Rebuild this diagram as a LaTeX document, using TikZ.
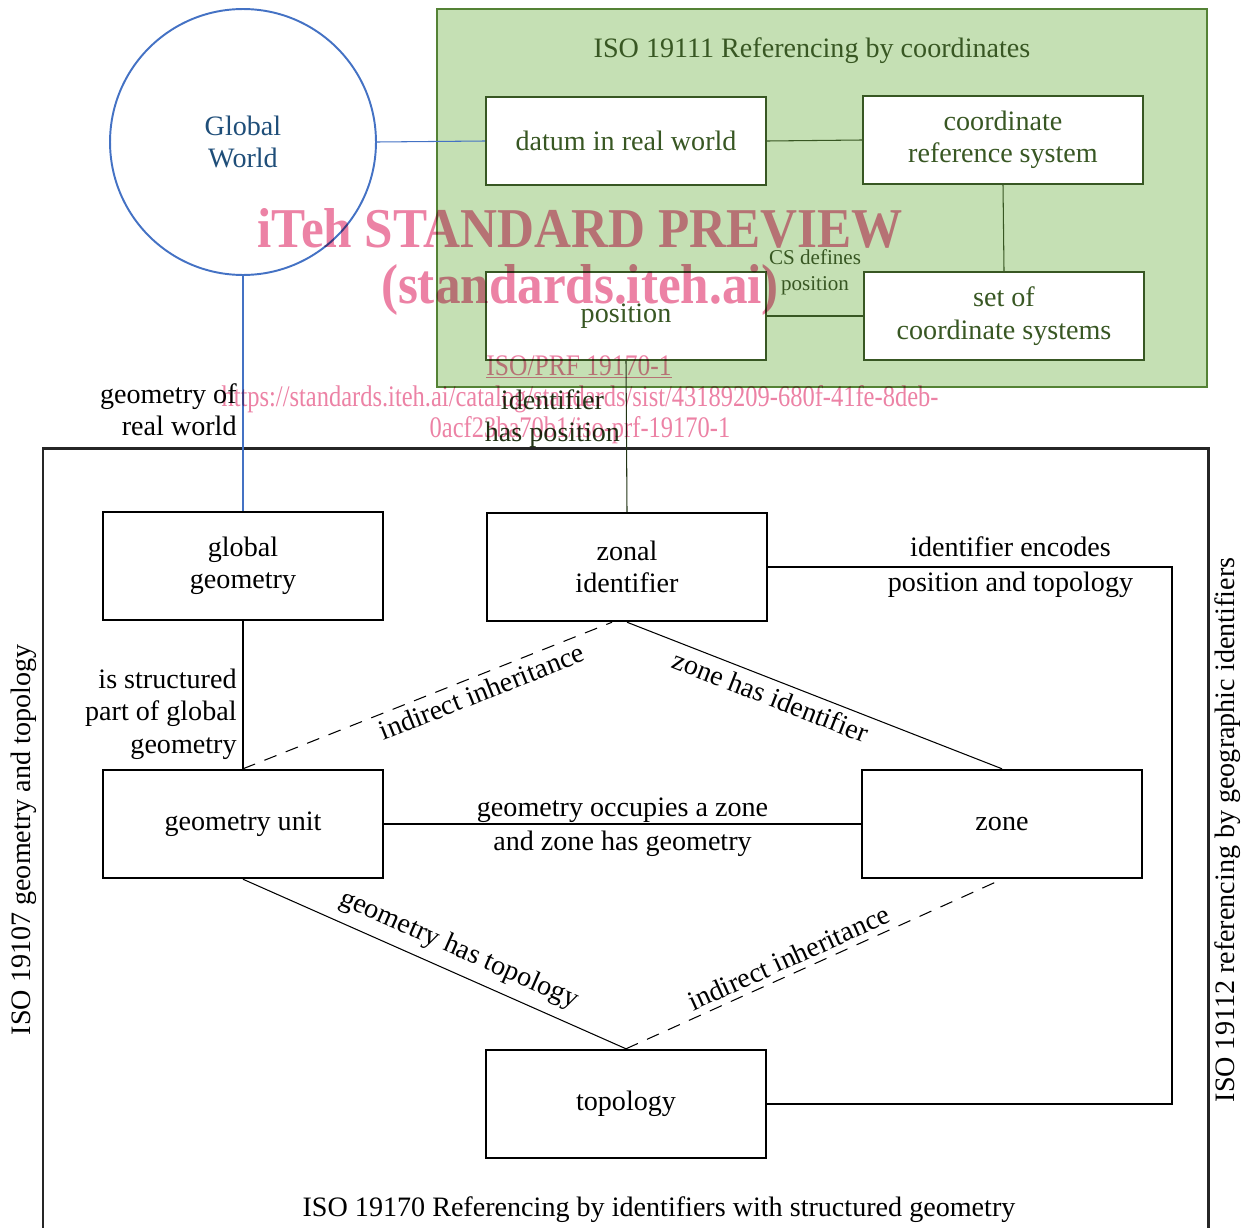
\documentclass[tikz,border=0pt]{standalone}
\usepackage{fontspec}
\setmainfont{Liberation Serif}
\usepackage{graphicx}
\usetikzlibrary{positioning}
\definecolor{gwblue}{RGB}{68,114,196}
\definecolor{gwtext}{RGB}{31,78,121}
\definecolor{crsfill}{RGB}{197,224,180}
\definecolor{crsline}{RGB}{84,130,53}
\definecolor{crsdark}{RGB}{56,87,35}
\definecolor{wmpink}{RGB}{236,130,165}

\begin{document}
\begin{tikzpicture}[x=0.02cm, y=-0.02cm,
  every node/.style={font=\fontsize{16}{18.5}\selectfont},
  box/.style={draw, line width=1.4pt, fill=white, minimum width=5.6cm, minimum height=2.16cm, align=center, inner sep=2pt},
  crsbox/.style={box, draw=crsdark, text=crsdark, minimum height=1.76cm},
  link/.style={line width=0.6pt},
  inherit/.style={link, dash pattern=on 0.26cm off 0.2cm},
  small/.style={font=\fontsize{12}{14.5}\selectfont, align=center},
  wm/.style={text=wmpink, font=\fontsize{17}{20}\selectfont},
  wmbig/.style={text=wmpink, font=\fontsize{32}{36}\selectfont\bfseries}]

  \useasboundingbox (0,0) rectangle (1253,1227);

  % frames of the standards
  \fill[crsfill] (437,9) rectangle (1207,387);
  \draw[crsline, line width=1.3pt] (437,9) rectangle (1207,387);
  \draw[black!85, line width=1.7pt] (43,448) rectangle (1208,1260);

  \node[circle, draw=gwblue, line width=1.1pt, minimum size=5.32cm, text=gwtext, align=center] (gw) at (243,142) {Global\\ World};

  \node[text=crsdark] (crstitle) at (812,51) {ISO 19111 Referencing by coordinates};
  \node[crsbox] (datum) at (626,141) {datum in real world};
  \node[crsbox] (crs) at (1003,140) {coordinate\\ reference system};
  \node[crsbox] (pos) at (626,316) {position};
  \node[crsbox] (cs) at (1004,316) {set of\\ coordinate systems};

  \node[box] (gg) at (243,566) {global\\ geometry};
  \node[box] (zid) at (627,567) {zonal\\ identifier};
  \node[box] (gu) at (243,824) {geometry unit};
  \node[box] (zone) at (1002,824) {zone};
  \node[box] (topo) at (626,1104) {topology};

  \node (isotitle) at (659,1210) {ISO 19170 Referencing by identifiers with structured geometry};
  \node[rotate=90] (isoleft) at (24,840) {ISO 19107 geometry and topology};
  \node[rotate=90] (isoright) at (1228,830) {ISO 19112 referencing by geographic identifiers};

  % connectors
  \draw[gwblue, link] (gw.east) -- (datum.west);
  \draw[gwblue, link] (gw.south) -- node[pos=0.57, left, text=black, align=right] {geometry of\\ real world} (gg.north);
  \draw[crsdark, link] (datum.east) -- (crs.west);
  \draw[crsdark, link] (crs.south) -- (cs.north);
  \draw[crsdark, link] (pos.east) -- node[above=0.3cm, small] {CS defines\\ position} (cs.west);
  \draw[crsdark!60!black, link] (pos.south) -- node[pos=0.38, left, align=center] {identifier\\ has position} (zid.north);

  \draw[link] (gg.south) -- node[pos=0.63, left, align=right] {is structured\\ part of global\\ geometry} (gu.north);
  \draw[inherit] (gu.north) -- node[pos=0.63, below, sloped] {indirect inheritance} ([xshift=-0.3cm]zid.south);
  \draw[link] (zid.south) -- node[pos=0.4, below, sloped] {zone has identifier} (zone.north);
  \draw[link] (gu.east) -- node[align=center, text depth=0pt] {geometry occupies a zone\\[1pt] and zone has geometry} (zone.west);
  \draw[link] (gu.south) -- node[pos=0.54, above=2pt, sloped] {geometry has topology} (topo.north);
  \draw[inherit] (topo.north) -- node[pos=0.45, above, sloped] {indirect inheritance} (zone.south);
  \coordinate (enc) at (1172,567);
  \draw[link] (zid.east) -- node[pos=0.6, align=center] {identifier encodes\\[1pt] position and topology} (enc) |- (topo.east);

  % watermark
  \begin{scope}[blend mode=multiply]
    \node[wmbig] (wmone) at (580,228) {\scalebox{0.91}[1]{iTeh STANDARD PREVIEW}};
    \node[wmbig] (wmtwo) at (580,290) {\scalebox{0.91}[1]{(standards.iteh.ai)}};
    \node[wm] (wmthree) at (579,367) {\scalebox{0.855}[1]{\underline{ISO/PRF 19170-1}}};
    \node[wm] (wmfour) at (580,399) {\scalebox{0.82}[1]{https://standards.iteh.ai/catalog/standards/sist/43189209-680f-41fe-8deb-}};
    \node[wm] (wmfive) at (580,430) {\scalebox{0.82}[1]{0acf23ba70b1/iso-prf-19170-1}};
  \end{scope}
\end{tikzpicture}
\end{document}
